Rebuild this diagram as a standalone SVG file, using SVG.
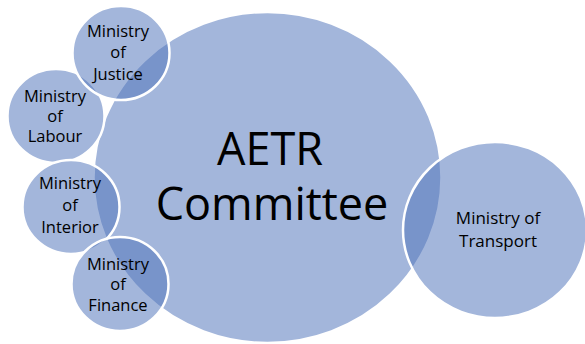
<svg xmlns="http://www.w3.org/2000/svg" width="585" height="344" viewBox="0 0 585 344">
<style>
.c{fill:#5276BB;fill-opacity:0.53;stroke:#FFFFFF;stroke-width:2.5}
.t{font-family:"Open Sans","Liberation Sans",sans-serif;fill:#000;text-anchor:middle}
.s{font-size:16.5px}
</style>
<rect width="585" height="344" fill="#FFFFFF"/>
<g id="connectors"></g>
<g id="aetr">
<ellipse class="c" cx="267.5" cy="177.5" rx="174" ry="165.5"/>
<text class="t" x="270" y="165" font-size="45">AETR</text>
<text class="t" x="272" y="220" font-size="45">Committee</text>
</g>
<g id="labour">
<ellipse class="c" cx="56" cy="116" rx="48.5" ry="47"/>
<text class="t s" x="55" y="102">Ministry</text>
<text class="t s" x="55" y="122">of</text>
<text class="t s" x="55" y="142">Labour</text>
</g>
<g id="justice">
<ellipse class="c" cx="121" cy="53" rx="48.5" ry="47"/>
<text class="t s" x="118" y="37">Ministry</text>
<text class="t s" x="118" y="58">of</text>
<text class="t s" x="118" y="80">Justice</text>
</g>
<g id="interior">
<ellipse class="c" cx="71" cy="207" rx="48.5" ry="47"/>
<text class="t s" x="70" y="189">Ministry</text>
<text class="t s" x="70" y="211">of</text>
<text class="t s" x="70" y="233">Interior</text>
</g>
<g id="finance">
<ellipse class="c" cx="120" cy="284" rx="48.5" ry="47"/>
<text class="t s" x="118" y="270">Ministry</text>
<text class="t s" x="118" y="290">of</text>
<text class="t s" x="118" y="311">Finance</text>
</g>
<g id="transport">
<ellipse class="c" cx="495" cy="230" rx="92" ry="88"/>
<text class="t" x="498" y="224" font-size="17">Ministry of</text>
<text class="t" x="498" y="247" font-size="17">Transport</text>
</g>
</svg>
